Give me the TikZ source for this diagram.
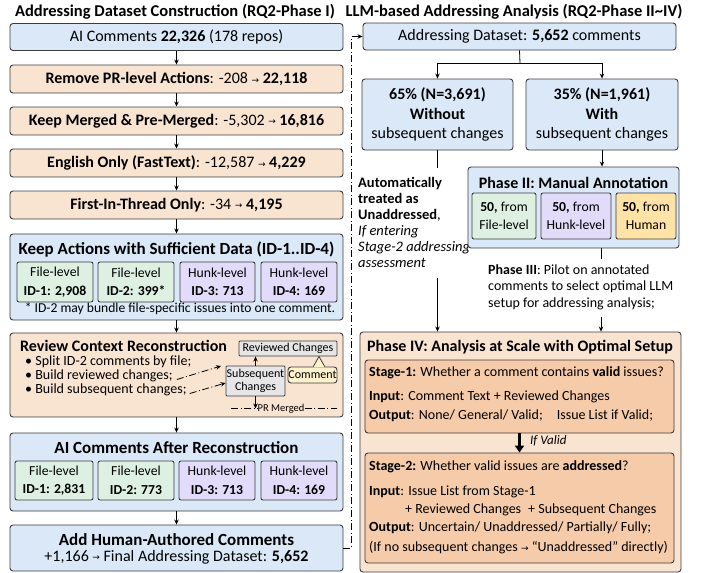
\documentclass[tikz,border=0pt]{standalone}
\usepackage{fontspec}
\setmainfont{Carlito}
\newfontfamily\symf{DejaVu Sans}
\usetikzlibrary{arrows.meta,calc}
\definecolor{bd}{HTML}{3C3C3C}
\definecolor{blueF}{HTML}{DAE8F7}
\definecolor{beigeF}{HTML}{F9E4D2}
\definecolor{greenF}{HTML}{DDF0E2}
\definecolor{purpF}{HTML}{E2DBF9}
\definecolor{humF}{HTML}{FFE2A6}
\definecolor{cmtF}{HTML}{FFF2CC}
\definecolor{grayF}{HTML}{E6E6E6}
\definecolor{stageF}{HTML}{F6CBA9}
\newcommand\fA{\fontsize{16}{19.5}\selectfont}
\newcommand\fT{\fontsize{17}{19}\selectfont}
\newcommand\fH{\fontsize{16.5}{19}\selectfont}
\newcommand\fS{\fontsize{14}{16}\selectfont}
\newcommand\fC{\fontsize{13.7}{18.5}\selectfont}
\newcommand\fD{\fontsize{12}{12.5}\selectfont}
\newcommand\fL{\fontsize{14}{15}\selectfont}
\newcommand\ra{{\symf\fontsize{9}{9}\selectfont\raisebox{0.5pt}{→}}}
\tikzset{
  bx/.style={draw=bd, line width=0.9pt, rounded corners=3pt, inner sep=0pt, align=center, text=black},
  bluebox/.style={bx, fill=blueF},
  beigebox/.style={bx, fill=beigeF},
  greenbox/.style={bx, fill=greenF, rounded corners=2pt},
  purpbox/.style={bx, fill=purpF, rounded corners=2pt},
  humbox/.style={bx, fill=humF, rounded corners=2pt},
  stagebox/.style={bx, fill=stageF},
  sz/.style 2 args={minimum width=#1pt, minimum height=#2pt},
  txt/.style={inner sep=0pt, text=black},
  arr/.style={-{Stealth[length=5pt,width=4.5pt]}, line width=0.8pt, draw=black},
  ln/.style={line width=0.8pt, draw=black},
  dd/.style={line width=0.8pt, dash pattern=on 7pt off 2.5pt on 1pt off 2.5pt}
}
\begin{document}
\begin{tikzpicture}[x=1pt,y=-1pt]
\useasboundingbox (0,0) rectangle (707,573);

% ---------- headers
\node[txt, font=\fH\bfseries] (h1) at (175,12) {Addressing Dataset Construction (RQ2-Phase I)};
\node[txt, font=\fH\bfseries] (h2) at (514,12) {LLM-based Addressing Analysis (RQ2-Phase II\textasciitilde IV)};

% ---------- left column
\node[bluebox, sz={333}{27}, font=\fA] (b1) at (176.5,37) {AI Comments \textbf{22,326} (178 repos)};
\node[beigebox, sz={333}{28}, font=\fA] (b2) at (176.5,79) {\textbf{Remove PR-level Actions}: -208 \ra{} \textbf{22,118}};
\node[beigebox, sz={333}{28}, font=\fA] (b3) at (176.5,121) {\textbf{Keep Merged \& Pre-Merged}: -5,302 \ra{} \textbf{16,816}};
\node[beigebox, sz={333}{28}, font=\fA] (b4) at (176.5,163) {\textbf{English Only (FastText)}: -12,587 \ra{} \textbf{4,229}};
\node[beigebox, sz={333}{28}, font=\fA] (b5) at (176.5,205) {\textbf{First-In-Thread Only}: -34 \ra{} \textbf{4,195}};

\node[bluebox, sz={333}{86}] (b6) at (176.5,277) {};
\node[txt, font=\fT\bfseries] (t6) at (176.5,250) {Keep Actions with Sufficient Data (ID-1..ID-4)};
\node[greenbox, sz={76}{40}, font=\fC] (i61) at (55,282) {File-level\\\textbf{ID-1: 2,908}};
\node[greenbox, sz={76}{40}, font=\fC] (i62) at (136,282) {File-level\\\textbf{ID-2: 399*}};
\node[purpbox, sz={75}{40}, font=\fC] (i63) at (217.5,282) {Hunk-level\\\textbf{ID-3: 713}};
\node[purpbox, sz={76}{40}, font=\fC] (i64) at (299,282) {Hunk-level\\\textbf{ID-4: 169}};
\node[txt, font=\fontsize{13.6}{15}\selectfont] (fn6) at (180,309) {* ID-2 may bundle file-specific issues into one comment.};

\node[beigebox, sz={333}{84}] (b7) at (176.5,375) {};
\node[txt, font=\fA\bfseries, anchor=west] (t7) at (20,345.5) {Review Context Reconstruction};
\node[txt, font=\fL, anchor=west] (bu1) at (25,361.5) {• Split ID-2 comments by file;};
\node[txt, font=\fL, anchor=west] (bu2) at (25,375.5) {• Build reviewed changes;};
\node[txt, font=\fL, anchor=west] (bu3) at (25,389.5) {• Build subsequent changes;};
\node[bx, fill=grayF, rounded corners=1pt, sz={98}{15}, font=\fD] (rc) at (288,348.5) {Reviewed Changes};
\node[bx, fill=grayF, rounded corners=1pt, sz={59}{30}, font=\fD] (sc) at (255.5,381) {Subsequent\\Changes};
\node[bx, fill=cmtF, rounded corners=3pt, sz={49}{16}, font=\fD] (cm) at (312.5,375) {Comment};
\coordinate (ctip) at (319,356.5);
\fill[cmtF] ($(cm.north)+(0.8,0.7)$) -- (ctip) -- ($(cm.north)+(12.2,0.7)$) -- cycle;
\draw[draw=bd, line width=0.8pt] ($(cm.north)+(0.8,0)$) -- (ctip) -- ($(cm.north)+(12.2,0)$);
\draw[arr] (sc.north) -- (sc.north |- rc.south);
\node[txt, font=\fontsize{10.5}{11}\selectfont] (prm) at (281,408.5) {PR Merged};
\coordinate (pl) at (231,408.5);
\coordinate (pr) at (337,408.5);
\draw[dd, draw=black] (pl) -- (prm.west);
\draw[dd, draw=black] (prm.east) -- (pr);
\draw[arr] (sc.south) -- (sc.south |- prm.west);
\coordinate (t1) at (221,366);
\draw[dd, -{Stealth[length=5pt,width=4.5pt]}] ([xshift=4pt,yshift=-4pt]bu2.east) -- (t1);
\draw[dd, -{Stealth[length=5pt,width=4.5pt]}] ([xshift=3pt,yshift=-4pt]bu3.east) -- ([yshift=-2pt]sc.west);

\node[bluebox, sz={333}{78}] (b8) at (176.5,472) {};
\node[txt, font=\fT\bfseries] (t8) at (176.5,448) {AI Comments After Reconstruction};
\node[greenbox, sz={78}{39}, font=\fC] (i81) at (54,480.5) {File-level\\\textbf{ID-1: 2,831}};
\node[greenbox, sz={76}{39}, font=\fC] (i82) at (136,480.5) {File-level\\\textbf{ID-2: 773}};
\node[purpbox, sz={76}{39}, font=\fC] (i83) at (217,480.5) {Hunk-level\\\textbf{ID-3: 713}};
\node[purpbox, sz={76}{39}, font=\fC] (i84) at (299,480.5) {Hunk-level\\\textbf{ID-4: 169}};

\node[bluebox, sz={333}{46}] (b9) at (176.5,548) {};
\node[txt, font=\fT\bfseries] (t9) at (176.5,540) {Add Human-Authored Comments};
\node[txt, font=\fA] (l9) at (176.5,557) {+1,166 \ra{} Final Addressing Dataset: \textbf{5,652}};

\draw[arr] (b1) -- (b2);
\draw[arr] (b2) -- (b3);
\draw[arr] (b3) -- (b4);
\draw[arr] (b4) -- (b5);
\draw[arr] (b5) -- (b6);
\draw[arr] (b6) -- (b7);
\draw[arr] (b7) -- (b8);
\draw[arr] (b8) -- (b9);

% ---------- right column
\node[bluebox, sz={313}{27}, font=\fA] (r1) at (519.5,36.5) {Addressing Dataset: \textbf{5,652} comments};
\node[bluebox, sz={151}{71}, font=\fA] (r2) at (437.5,114.5) {\textbf{65\% (N=3,691)}\\\textbf{Without}\\subsequent changes};
\node[bluebox, sz={152}{71}, font=\fA] (r3) at (602,114.5) {\textbf{35\% (N=1,961)}\\\textbf{With}\\subsequent changes};
\coordinate (sp) at (520,63);
\draw[ln] (r1.south) -- (sp);
\draw[arr] (sp) -| (r2.north);
\draw[arr] (sp) -| (r3.north);

\draw[dd, -{Stealth[length=5pt,width=4.5pt]}] (b9.east) -- ++(8,0) |- (r1.west);

\node[txt, font=\fontsize{14.5}{16}\selectfont, align=left, anchor=west] (auto) at (358,222) {\textbf{Automatically}\\\textbf{treated as}\\\textbf{Unaddressed},\\\textit{If entering}\\\textit{Stage-2 addressing}\\\textit{assessment}};

\node[bluebox, sz={211}{81}] (ph2) at (573.5,207.5) {};
\node[txt, font=\fA\bfseries] (t2) at (573.5,183) {Phase II: Manual Annotation};
\node[greenbox, sz={64}{46}, font=\fC] (a1) at (504,216) {\textbf{50,} from\\File-level};
\node[purpbox, sz={70}{46}, font=\fC] (a2) at (576,216) {\textbf{50,} from\\Hunk-level};
\node[humbox, sz={60}{46}, font=\fC] (a3) at (646,216) {\textbf{50,} from\\Human};
\draw[arr] (r3.south) -- (r3.south |- ph2.north);

\node[txt, font=\fontsize{14}{16.5}\selectfont, align=left, anchor=west] (p3) at (488,287) {\textbf{Phase III}: Pilot on annotated\\comments to select optimal LLM\\setup for addressing analysis;};

\node[beigebox, sz={321}{240}] (ph4) at (520.5,452) {};
\node[txt, font=\fA\bfseries] (t4) at (520,347) {Phase IV: Analysis at Scale with Optimal Setup};

\coordinate (ua) at (437.5,168);
\coordinate (ub) at (437.5,278);
\draw[ln] (r2.south) -- (ua);
\draw[arr] (ub) -- (ub |- ph4.north);
\coordinate (pa) at (601,259);
\coordinate (pb) at (601,317);
\draw[ln] (pa |- ph2.south) -- (pa);
\draw[arr] (pb) -- (pb |- ph4.north);

\node[stagebox, sz={309}{73}] (s1) at (519.5,396.5) {};
\node[txt, font=\fS, anchor=west] (s1a) at (369,373) {\textbf{Stage-1:} Whether a comment contains \textbf{valid} issues?};
\node[txt, font=\fS, anchor=west] (s1b) at (369,397) {\textbf{Input}: Comment Text + Reviewed Changes};
\node[txt, font=\fS, anchor=west] (s1c) at (369,416) {\textbf{Output}: None/ General/ Valid;\quad Issue List if Valid;};

\node[stagebox, sz={309}{110}] (s2) at (519.5,508) {};
\node[txt, font=\fS, anchor=west] (s2a) at (369,467) {\textbf{Stage-2:} Whether valid issues are \textbf{addressed}?};
\node[txt, font=\fS, anchor=west] (s2b) at (369,492) {\textbf{Input}: Issue List from Stage-1};
\node[txt, font=\fS, anchor=west] (s2c) at (405,510) {+ Reviewed Changes\enspace+ Subsequent Changes};
\node[txt, font=\fS, anchor=west] (s2d) at (369,528) {\textbf{Output}: Uncertain/ Unaddressed/ Partially/ Fully;};
\node[txt, font=\fS, anchor=west] (s2e) at (369,548) {(If no subsequent changes \ra{} “Unaddressed” directly)};

\draw[-{Triangle[length=7pt,width=9pt]}, line width=3pt] (s1.south) -- (s2.north);
\node[txt, font=\fontsize{13}{15}\selectfont\itshape, anchor=west] (iv) at (530,441) {If Valid};
\end{tikzpicture}
\end{document}
